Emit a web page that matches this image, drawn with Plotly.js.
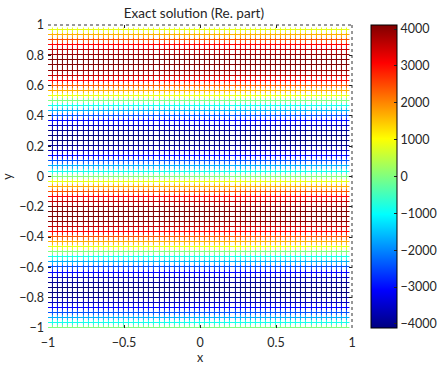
<!DOCTYPE html>
<html>
<head>
<meta charset="utf-8">
<script src="https://cdn.plot.ly/plotly-3.0.1.min.js"></script>
<style>html,body{margin:0;padding:0;background:#fff;}#chart{width:444px;height:367px;}</style>
</head>
<body>
<div id="chart"></div>
<script>
// Mesh grid: 60 vertices per direction, from -1 to 1-h (periodic grid)
const nGrid = 60;
// Row values (real part of exact solution) read per grid row, bottom (y=-1) to top
const rowValues = [
  0, -859, -1680, -2428, -3069, -3577, -3928, -4107, -4107, -3928,
  -3577, -3069, -2428, -1680, -859,
  0, 859, 1680, 2428, 3069, 3577, 3928, 4107, 4107, 3928,
  3577, 3069, 2428, 1680, 859,
  0, -859, -1680, -2428, -3069, -3577, -3928, -4107, -4107, -3928,
  -3577, -3069, -2428, -1680, -859,
  0, 859, 1680, 2428, 3069, 3577, 3928, 4107, 4107, 3928,
  3577, 3069, 2428, 1680, 859
];
const xTickVals = [-1, -0.5, 0, 0.5, 1];
const xTickText = ['\u22121', '\u22120.5', '0', '0.5', '1'];
const yTickVals = [-1, -0.8, -0.6, -0.4, -0.2, 0, 0.2, 0.4, 0.6, 0.8, 1];
const yTickText = ['\u22121', '\u22120.8', '\u22120.6', '\u22120.4', '\u22120.2', '0', '0.2', '0.4', '0.6', '0.8', '1'];
const cbTickVals = [-4000, -3000, -2000, -1000, 0, 1000, 2000, 3000, 4000];
const cbTickText = ['\u22124000', '\u22123000', '\u22122000', '\u22121000', '0', '1000', '2000', '3000', '4000'];
const zLimit = 4110;

const h = 2 / nGrid;
const vertex = [];
for (let k = 0; k < nGrid; k++) vertex.push(-1 + k * h);

// colored layer: rows centred on grid vertices
const colorRowEdges = [];
for (let k = 0; k <= nGrid; k++) colorRowEdges.push(-1 - h / 2 + k * h);
const colorColEdges = [-1 - h / 2, vertex[nGrid - 1] + h / 2];
const colorZ = rowValues.map(v => [v]);

// white layer cells between vertices (with a margin cell each side)
const whiteEdges = [];
for (let k = -1; k <= nGrid + 1; k++) whiteEdges.push(-1 + k * h);
const whiteZ = [];
for (let r = 0; r < whiteEdges.length - 1; r++) {
  const row = [];
  for (let c = 0; c < whiteEdges.length - 1; c++) row.push(1);
  whiteZ.push(row);
}

const jet = [[0, '#000080'], [0.125, '#0000ff'], [0.375, '#00ffff'], [0.625, '#ffff00'], [0.875, '#ff0000'], [1, '#800000']];
const fam = 'Lato, Open Sans, sans-serif';
const font = {family: fam, size: 12.5, color: '#262626'};

const traces = [
  {
    type: 'heatmap', x: colorColEdges, y: colorRowEdges, z: colorZ,
    colorscale: jet, zmin: -zLimit, zmax: zLimit, zsmooth: false, hoverinfo: 'skip',
    colorbar: {
      x: 1.0625, xanchor: 'left', y: 0.5, yanchor: 'middle', len: 1, lenmode: 'fraction',
      thickness: 26, thicknessmode: 'pixels', xpad: 0, ypad: 0,
      outlinewidth: 1, outlinecolor: '#000',
      tickvals: cbTickVals, ticktext: cbTickText, ticks: 'inside', ticklen: 3, tickcolor: '#222',
      tickfont: font
    }
  },
  {
    type: 'heatmap', x: whiteEdges, y: whiteEdges, z: whiteZ,
    colorscale: [[0, '#ffffff'], [1, '#ffffff']], showscale: false, zsmooth: false,
    xgap: 1, ygap: 1, hoverinfo: 'skip'
  }
];

const layout = {
  width: 444, height: 367,
  margin: {l: 48, r: 92, t: 25, b: 39, autoexpand: false},
  paper_bgcolor: '#fff', plot_bgcolor: '#fff',
  font: font,
  title: {text: 'Exact solution (Re. part)', font: {family: fam, size: 13.5, color: '#262626'}, xref: 'paper', x: 0.48, xanchor: 'center', yref: 'container', y: 0.965, yanchor: 'middle'},
  xaxis: {
    range: [-1, 1], tickvals: xTickVals, ticktext: xTickText, ticks: 'inside', ticklen: 3, tickcolor: '#222',
    showgrid: false, zeroline: false, showline: false, mirror: 'ticks', ticklabelstandoff: 5,
    title: {text: 'x', font: font, standoff: 3}, tickfont: font
  },
  yaxis: {
    range: [-1, 1], tickvals: yTickVals, ticktext: yTickText, ticks: 'inside', ticklen: 3, tickcolor: '#222',
    showgrid: false, zeroline: false, showline: false, mirror: 'ticks', ticklabelstandoff: 3,
    title: {text: 'y', font: font, standoff: 8}, tickfont: font
  },
  shapes: [
    {type: 'line', xref: 'paper', yref: 'paper', x0: 0, x1: 1, y0: 1, y1: 1, line: {color: '#333', width: 1, dash: 'dot'}, layer: 'above'},
    {type: 'line', xref: 'paper', yref: 'paper', x0: 1, x1: 1, y0: 0, y1: 1, line: {color: '#333', width: 1, dash: 'dot'}, layer: 'above'}
  ]
};

Plotly.newPlot('chart', traces, layout, {displayModeBar: false, staticPlot: true});
</script>
</body>
</html>
